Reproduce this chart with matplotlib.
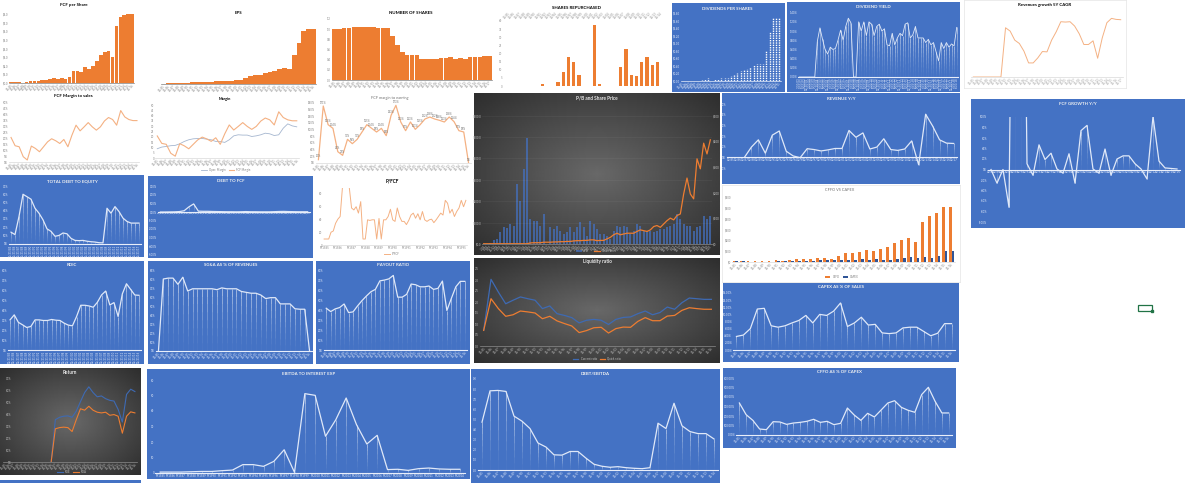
import numpy as np
import matplotlib
matplotlib.use("Agg")
import matplotlib.pyplot as plt
from matplotlib.collections import LineCollection
from matplotlib.patches import Rectangle

# values, one list per chart
fcf_per_share = [0.15, 0.1, 0.08, 0.05, 0.08, 0.2, 0.25, 0.18, 0.3, 0.4, 0.5, 0.55, 0.5, 0.6, 0.45, 0.7, 1.4, 1.4, 1.3,
                 1.9, 1.6, 2.0, 2.6, 3.2, 3.6, 3.7, 3.0, 6.6, 7.6, 7.9, 8.0, 8.0]
eps = [0.02, 0.03, 0.04, 0.05, 0.06, 0.06, 0.08, 0.09, 0.1, 0.1, 0.11, 0.12, 0.13, 0.14, 0.15, 0.16, 0.2, 0.28, 0.36,
       0.4, 0.42, 0.48, 0.52, 0.58, 0.66, 0.72, 0.68, 1.3, 1.85, 2.35, 2.45, 2.45]
num_shares = [1.0, 1.01, 1.02, 1.03, 1.05, 1.05, 1.05, 1.05, 1.05, 1.02, 1.02, 1.02, 0.86, 0.68, 0.56, 0.5, 0.5, 0.5,
              0.41, 0.41, 0.41, 0.41, 0.43, 0.44, 0.45, 0.42, 0.43, 0.42, 0.46, 0.46, 0.45, 0.47, 0.47]
shares_repurchased = [0, 0, 0, 0, 0, 0, 0, 1.5, 0, 0, 2.5, 8.5, 18, 15, 7, 0, 0, 37.5, 1, 0, 0.2, 0.2, 11.5, 22.5, 7,
                      6, 15, 18, 13, 14.5]
dividends = [0, 0.01, 0.01, 0.01, 0.01, 0.01, 0.02, 0.04, 0.07, 0, 0.04, 0.06, 0.07, 0.09, 0.09, 0.12, 0.16, 0.22,
             0.27, 0.29, 0.33, 0.37, 0.42, 0.46, 0.46, 0.46, 0.8, 1.3, 1.66, 1.66, 1.66]
div_yield = [0, 0, 0, 0, 0, 0, 0, 0.78, 1.07, 0.82, 0.6, 0.5, 0.65, 0.6, 0.62, 0.8, 1.02, 0.8, 1.1, 1.28, 1.18, 0, 0,
             1.2, 1.0, 1.2, 0.9, 1.2, 1.15, 0.9, 1.1, 1.15, 1.0, 1.05, 0.7, 0.68, 0.95, 0.7, 0.85, 0.95, 0.9, 1.15,
             1.18, 0.85, 0.92, 1.1, 0.85, 0.85, 0.85, 0.75, 0.82, 0.7, 0.75, 0.55, 0.35, 0.75, 0.62, 0.75, 0.65, 0.72,
             0.68, 1.08]
rev_cagr = [0, 0, 0, 0, 0, 0, 0, 14.7, 13.7, 11, 10, 7.7, 4.2, 4.2, 5.7, 7.6, 7.5, 11, 13.5, 16.5, 16.4, 16.5, 15.2,
            12.9, 9.7, 9.7, 10.8, 5.6, 11.7, 16.2, 17.5, 17.2, 17.1]
fcf_margin = [20.8, 13.8, 12.9, 4.5, 1.7, 13.5, 11.5, 8.7, 12.9, 17.1, 19.7, 18, 15.7, 19.1, 12.9, 22.8, 31.2, 26.4,
              29.8, 33.4, 29.8, 27, 29.8, 34.8, 37.7, 36, 31.2, 43.6, 38.2, 36, 35.1, 35.1]
oper_margin = [8.75, 10.3, 10.9, 11.6, 11.9, 13.4, 15.6, 17.2, 18.1, 18.4, 18.4, 17.8, 17.2, 15.6, 15.6, 14.7, 17.2,
               20.9, 21.9, 21.6, 21.6, 20.3, 20.9, 21.9, 23.4, 22.8, 21.2, 21.9, 28.1, 32.2, 30.3, 29.4]
fcf_to_earning = [10, 171, 115, 104, 34, 23, 71, 58, 71, 93, 115, 104, 93, 104, 82, 143, 173, 123, 97, 123, 101, 115,
                  132, 138, 132, 128, 123, 138, 124, 97, 93, 0]
p_fcf = [9.4, 9.4, 9.4, 20, 22, 34, 40.5, 44.7, 90, np.nan, np.nan, 90, 58, 55, 60, 50, 68, 9.4, 9.4, 39.5, 38.5, 39.5,
         39.5, 9.4, 41.6, 9.4, 39.5, 39.5, 44.7, 56, 39.5, 37, 58, 44.7, 37, 37, 32, 38.5, 47, 50, 42, 49, 39.5, 52.5,
         39.5, 37, 39.5, 40.5, 35, 39.5, 44.7, 50, 47, 70, 65.5, 50, 56, 44.7, 52.5, 58, 70, 60, 70]
debt_equity = [14, 11, 33, 60, 57, 54, 43, 37, 29, 18, 15, 9, 10, 13, 12, 6.5, 4, 3.7, 4, 3, 2.4, 2, 1.2, 1, 43, 37,
               45, 39, 31, 27, 25, 25, 25]
debt_fcf = [0, 0, 0.01, 0.02, 0.05, 0.15, 0.6, 0.95, 0.1, 0.08, 0.08, 0.06, 0.05, 0.04, 0.03, 0.03, 0.02, 0.03, 0.05,
            0.03, 0.03, 0.02, 0.02, 0.02, 0.04, 0.06, 0.07, 0.05, 0.04, 0.03, 0.03, 0.03]
roic = [30.5, 35.6, 28, 25.5, 22.8, 23.8, 30.5, 30.5, 29.9, 29.9, 30.9, 30.2, 29.9, 27.2, 25.2, 24.5, 33.9, 45.3, 45.3,
        44.6, 43.3, 48.3, 55.7, 59.7, 45.6, 48, 33.9, 56.7, 67.1, 61.4, 55.7, 55.4]
sga_pct = [0, 81, 82, 82, 75, 83, 67.5, 70, 70, 70, 70, 70, 69, 71, 70, 70, 70, 67, 66, 65, 65, 63, 59, 60, 60, 53, 53,
           53, 47.5, 47, 47, 0]
payout = [42.3, 38.9, 41.6, 43, 46.6, 37.9, 38.6, 44.6, 50, 54.7, 59, 61.4, 70, 70.8, 72, 75.5, 53.5, 53.5, 56.4, 66.8,
          66.1, 64, 64, 64.8, 61.4, 62.4, 69.8, 40, 52.3, 64, 69.5, 69.5]
pb_ratio = [0, 0, 3, 19, 23, 55, 78, 73, 93, 86, 280, 203, 350, 498, 117, 109, 109, 86, 140, 0, 78, 70, 86, 62, 47, 55,
            78, 55, 78, 101, 78, 39, 109, 93, 70, 47, 47, 39, 23, 62, 86, 78, 86, 78, 47, 62, 93, 86, 62, 62, 62, 55,
            62, 70, 70, 78, 86, 93, 140, 117, 93, 86, 86, 62, 78, 86, 132, 117, 132]
share_price = [1, 1, 1, 1, 1, 1, 1, 1, 1, 1, 1, 1, 1, 1, 4, 5, 5, 5, 7, 7, 7, 8, 8, 9, 9, 10, 10, 12, 13, 13, 14, 14,
               16, 16, 13, 14, 14, 20, 26, 36, 42, 36, 39, 42, 42, 42, 49, 55, 52, 49, 55, 68, 72, 65, 78, 91, 101, 94,
               111, 117, 195, 257, 195, 176, 332, 293, 393, 351, 406]
current_ratio = [0.71, 3.03, 2.45, 1.92, 2.08, 2.23, 2.15, 2.08, 1.7, 1.82, 1.47, 1.39, 1.29, 1.05, 1.17, 1.21, 1.17,
                 0.98, 1.21, 1.3, 1.32, 1.47, 1.59, 1.42, 1.52, 1.77, 1.67, 1.97, 2.18, 2.15, 2.12, 2.12]
quick_ratio = [0.71, 2.15, 1.7, 1.35, 1.42, 1.59, 1.55, 1.5, 1.24, 1.35, 1.14, 1.02, 0.91, 0.61, 0.7, 0.83, 0.85, 0.59,
               0.79, 0.86, 0.85, 1.12, 1.29, 1.15, 1.15, 1.36, 1.39, 1.62, 1.74, 1.7, 1.67, 1.67]
roe = [np.nan] * 11 + [0, 35.7, 37.7, 38.6, 38.9, 37.7, 42.9, 50.9, 58.6, 63.4, 58.6, 55, 55.7, 53.4, 52, 51.4, 44.3,
                       33.7, 57, 61.4, 59.4]
roa = [np.nan] * 11 + [0, 28, 29, 29.4, 29, 25.7, 35.7, 44.9, 43.7, 47, 43.7, 42, 41.4, 42, 39.4, 40, 38.6, 24.3, 38.6,
                       42.3, 41.4]
ebitda_interest = [0.6, 0.6, 0.6, 0.8, 1, 1, 1.5, 1.9, 5.4, 5.4, 4.3, 7.5, 15, 0.4, 51.2, 50.1, 23.7, 34.4, 48.4, 31.2,
                   18.7, 24.3, 2.2, 2.4, 1.7, 2.8, 3.2, 2.6, 2.4, 2.4]
debt_ebitda = [4.73, 7.83, 7.87, 7.77, 5.33, 4.83, 4.1, 2.67, 2.27, 1.5, 1.47, 1.83, 1.83, 1.17, 0.57, 0.37, 0.27, 0.33,
               0.23, 0.17, 0.13, 0.23, 4.63, 4.1, 6.6, 4.37, 3.8, 3.6, 3.6, 3.07]
revenue_yy = [np.nan, np.nan, 0, 9.6, 16.4, 3.9, 20.8, 24.7, 5.7, 1.3, -0.3, 8.1, 7.3, 6, 7, 8.3, 8.3, 25.2, 18.8, 22.9,
              7.8, 9.6, 17.4, 7.3, 6.5, 7.8, 15.4, -7, 40.4, 29.4, 16.4, 13.3, 13]
cffo = [6, 9, 9, 9, 9, 12, 15, 12, 18, 24, 30, 27, 33, 36, 30, 57, 81, 87, 90, 108, 102, 117, 138, 180, 207, 219, 183,
        372, 426, 456, 510, 510]
capex = [9, 6, 3, 3, 3, 3, 6, 6, 9, 9, 12, 12, 15, 15, 18, 21, 15, 18, 27, 21, 27, 21, 21, 27, 36, 45, 39, 42, 39, 57,
         105, 105]
capex_sales = [3.8, 4.2, 6, 11.5, 11.7, 6.8, 6.4, 6.8, 7.6, 8.3, 9.7, 7.6, 10, 9.7, 10.9, 13.2, 6.6, 7.6, 9.2, 7, 7.2,
               4.8, 4.6, 4.8, 6.2, 6.4, 6.4, 5.2, 4, 4.7, 7.4, 7.4]
cffo_capex = [337, 214, 154, 63, 56, 140, 137, 112, 126, 133, 144, 165, 133, 144, 109, 123, 284, 211, 154, 228, 190,
              263, 337, 361, 291, 260, 239, 425, 502, 354, 232, 232]
fcf_growth = [0, -26, 0, -72, 1000, 1000, 11, -11, 47, 19, 31, 1, -7, 30, -26, 74, 84, 1, -7, 39, -11, 20, 26, 26, 11,
              1, -18, 101, 16, 3, 2, 1]

fy_short = [f"12/{y % 100:02d}" for y in range(1985, 2020)]
fy_dates = [f"12/31/{y % 100:02d}" for y in range(1985, 2020)]
qtr_short = [f"{m}/{y % 100:02d}" for y in range(2003, 2021) for m in (3, 6, 9, 12)]
qtr_dates = [f"{m}/30/{y % 100:02d}" for y in range(2003, 2021) for m in (3, 6, 9, 12)]
fy_names = [f"FY{y}" for y in range(1985, 2020)]

BLUE = "#4472C4"
DARK_LINE = "#3E6AB3"
ORANGE = "#ED7D31"
W, H = 1200, 483
FONT = "Lato"

fig = plt.figure(figsize=(W / 100, H / 100), dpi=100, facecolor="white")


def px_axes(x0, y0, x1, y1):
    ax = fig.add_axes([x0 / W, 1 - y1 / H, (x1 - x0) / W, (y1 - y0) / H])
    ax.set_facecolor("none")
    return ax


def panel(x0, y0, x1, y1, kind):
    ax = px_axes(x0, y0, x1, y1)
    ax.set_xticks([])
    ax.set_yticks([])
    for s in ax.spines.values():
        s.set_visible(False)
    if kind == "blue":
        ax.set_facecolor(BLUE)
    elif kind == "dark":
        # radial grey fill like the excel dark chart style
        yy, xx = np.mgrid[-1:1:80j, -1:1:160j]
        shade = np.clip(1 - np.hypot(xx, yy) / 1.4, 0, 1)
        ax.imshow(shade, cmap="gray", vmin=-0.8, vmax=3.6, aspect="auto")
    elif kind == "white":
        for s in ax.spines.values():
            s.set_visible(True)
            s.set_color("#e4e4e4")
            s.set_linewidth(0.5)


def title(x, y, text, color="black", size=3.2, bold=True):
    fig.text(x / W, 1 - y / H, text, ha="center", va="center", fontsize=size, color=color,
             fontweight="bold" if bold else "normal", family=FONT)


def setup(ax, ymin, ymax, step, fmt, labels, color="#7f7f7f", rot=45, axis_color=None):
    for name in ("top", "right", "left"):
        ax.spines[name].set_visible(False)
    ax.spines["bottom"].set_color(axis_color or color)
    ax.spines["bottom"].set_linewidth(0.5)
    ax.set_ylim(ymin, ymax)
    ticks = np.arange(ymin, ymax + step / 2, step)
    ax.set_yticks(ticks)
    ax.set_yticklabels([fmt.format(t) for t in ticks])
    ax.set_xlim(-0.5, len(labels) - 0.5)
    ax.set_xticks(range(len(labels)))
    ax.set_xticklabels(labels, rotation=rot, ha="right" if rot == 45 else "center", rotation_mode="anchor" if rot == 45 else "default")
    ax.tick_params(length=0, labelsize=2.0, pad=0.6, colors=color)
    for t in ax.get_xticklabels() + ax.get_yticklabels():
        t.set_family(FONT)
    if ymin < 0:
        ax.spines["bottom"].set_position(("data", 0))


def white_line(ax, vals, fades=8):
    # white line plus the fading drop lines excel draws down to the axis
    vals = np.array(vals, dtype=float)
    x = np.arange(len(vals))
    segs = []
    cols = []
    for xi, v in zip(x, vals):
        if np.isnan(v):
            continue
        edges = np.linspace(0, v, fades + 1)
        for k in range(fades):
            segs.append([(xi, edges[k]), (xi, edges[k + 1])])
            cols.append((1, 1, 1, 0.04 + 0.75 * (k / fades) ** 1.3))
    ax.add_collection(LineCollection(segs, colors=cols, linewidths=0.5))
    ax.plot(x, vals, color="#dfe8f8", lw=0.9)
    ax.spines["bottom"].set_linewidth(0.8)


def legend(x, y, ax, color):
    handles, names = ax.get_legend_handles_labels()
    fig.legend(handles, names, loc="center", bbox_to_anchor=(x / W, 1 - y / H), ncol=2, frameon=False,
               prop={"size": 2.0, "family": FONT}, labelcolor=color, handlelength=2, columnspacing=1, borderpad=0)


def blue_chart(box, axes_box, name, title_y, vals, ymin, ymax, step, fmt, labels, rot=45):
    panel(*box, "blue")
    title((box[0] + box[2]) / 2, title_y, name, "#f2f2f2")
    ax = px_axes(*axes_box)
    setup(ax, ymin, ymax, step, fmt, labels, color="#e8eefa", rot=rot)
    white_line(ax, vals)
    return ax


# ---- top row, white background ----
title(74, 5, "FCF per Share")
ax = px_axes(9, 14, 134, 83)
setup(ax, 0, 8, 1, "${:.1f}", fy_short[:len(fcf_per_share)])
ax.bar(range(len(fcf_per_share)), fcf_per_share, width=0.92, color=ORANGE)

title(238, 13, "EPS")
ax = px_axes(161, 28, 316, 84)
setup(ax, 0, 2.5, 2.5, "", fy_short[:len(eps)])
ax.tick_params(axis="y", labelleft=False)
ax.bar(range(len(eps)), eps, width=1.0, color=ORANGE)

title(411, 13, "NUMBER OF SHARES")
ax = px_axes(332, 19, 492, 80)
setup(ax, 0, 1.2, 0.2, "{:.1f}", fy_short[:len(num_shares)])
ax.bar(range(len(num_shares)), num_shares, width=0.95, color=ORANGE)

title(577, 8, "SHARES REPURCHASED")
ax = px_axes(503, 21, 660, 86)
setup(ax, 0, 40, 5, "{:.0f}", fy_short[:len(shares_repurchased)], color="#8c8c8c")
ax.spines["bottom"].set_visible(False)
ax.xaxis.tick_top()
plt.setp(ax.get_xticklabels(), ha="left")
ax.bar(range(len(shares_repurchased)), shares_repurchased, width=0.62, color=ORANGE)

panel(672, 3, 785, 92, "blue")
title(727, 9, "DIVIDENDS PER SHARES", "#f2f2f2")
ax = px_axes(681, 13, 781, 81)
setup(ax, 0, 1.8, 0.2, "${:.2f}", fy_short[:len(dividends)], color="#e8eefa")
ax.vlines(range(len(dividends)), 0, dividends, colors="white", linestyles=(0, (1, 0.7)), lw=1.0)

panel(787, 2, 960, 92, "blue")
title(873, 7, "DIVIDEND YIELD", "#f2f2f2")
ax = px_axes(798, 12.7, 958, 77)
setup(ax, 0, 1.4, 0.2, "{:.2f}%", qtr_dates[:len(div_yield)], color="#e8eefa", rot=90)
white_line(ax, div_yield)
ax.lines[0].set_linewidth(0.6)

panel(964, 0, 1126, 88, "white")
title(1045, 5, "Revenues growth 5Y CAGR")
ax = px_axes(971, 10, 1123, 77)
setup(ax, 0, 20, 20, "", fy_short[:len(rev_cagr)], color="#9a9a9a", axis_color="#d9d9d9")
ax.tick_params(axis="y", labelleft=False)
ax.plot(rev_cagr, color="#F4B183", lw=0.7)

# ---- second row, white background ----
title(73, 96, "FCF Margin to sales")
ax = px_axes(9, 103, 139, 162)
setup(ax, 0, 50, 5, "{:.0f}%", fy_short[:len(fcf_margin)], axis_color="#d9d9d9")
ax.plot(fcf_margin, color="#F4B183", lw=0.8)

title(225, 99, "Margin", size=2.8)
ax = px_axes(155, 105, 299, 158)
setup(ax, 0, 50, 5, "{:.0f}", fy_short[:len(fcf_margin)], axis_color="#d9d9d9")
ax.plot(oper_margin, color="#A5B6CF", lw=0.6, label="Oper. Margin")
ax.plot(fcf_margin, color="#F4B183", lw=0.8, label="FCF Margin")
legend(226, 170, ax, "#7f7f7f")

title(390, 98, "FCF margin to earning", "#6f6f6f", size=2.8, bold=False)
ax = px_axes(316, 103, 471, 163)
setup(ax, 0, 180, 20, "{:.0f}%", fy_short[:len(fcf_to_earning)], axis_color="#d9d9d9")
ax.plot(fcf_to_earning, color="#F4B183", lw=0.9)
for i, v in enumerate(fcf_to_earning):
    ax.text(i, v + 4, f"{v}%", fontsize=1.9, ha="center", va="bottom", color="#6f6f6f", family=FONT, clip_on=False)

# ---- left block of blue charts ----
blue_chart((0, 175, 144, 257), (9, 186, 141, 243.7), "TOTAL DEBT TO EQUITY", 181, debt_equity, 0, 70, 10, "{:.0f}%",
           fy_dates[:len(debt_equity)], rot=90)
ax = blue_chart((148, 176, 313, 258), (158, 186.5, 310, 254.5), "DEBT TO FCF", 181, debt_fcf, -5, 3, 1, "{:.0f}00%",
                fy_short[:len(debt_fcf)])
ax.tick_params(axis="x", labelsize=1.7)

title(392, 181, "P/FCF", size=3.4)
ax = px_axes(323, 187.6, 467, 245)
setup(ax, 0, 90, 20, "{:.0f}", qtr_short[:len(p_fcf)], color="#7f7f7f", axis_color="#d9d9d9", rot=0)
ax.set_xticks(range(0, len(p_fcf), 6))
ax.set_xticklabels(fy_names[:len(range(0, len(p_fcf), 6))])
ax.plot(p_fcf, color="#F4B183", lw=0.7, label="P/FCF")
legend(392, 254, ax, "#7f7f7f")

blue_chart((0, 261, 144, 364), (8, 271, 141, 350), "ROIC", 265, roic, 0, 80, 10, "{:.0f}%",
           fy_dates[:len(roic)], rot=90)
blue_chart((148, 261, 313, 364), (156, 271, 312, 351), "SG&A AS % OF REVENUES", 265, sga_pct, 0, 90, 10, "{:.0f}%",
           fy_short[:len(sga_pct)])
blue_chart((316, 261, 470, 364), (324, 271, 467, 350), "PAYOUT RATIO", 265, payout, 0, 80, 10, "{:.0f}%",
           fy_short[:len(payout)])

# ---- dark charts ----
panel(474, 93, 720, 255, "dark")
title(597, 98, "P/B and Share Price", "#e6e6e6", size=3.4)
ax = px_axes(482, 115.7, 712, 244)
setup(ax, 0, 600, 100, "${:.1f}", qtr_short[:len(pb_ratio)], color="#c4c4c4", axis_color="#8c8c8c")
ax.grid(axis="y", color="white", alpha=0.07, lw=0.4)
ax.bar(range(len(pb_ratio)), pb_ratio, width=0.55, color="#4472C4", alpha=0.7, label="P/B")
ax2 = ax.twinx()
ax2.set_facecolor("none")
for s in ax2.spines.values():
    s.set_visible(False)
ax2.set_ylim(0, 500)
ax2.set_yticks(np.arange(0, 501, 100))
ax2.set_yticklabels([f"${t}" for t in range(0, 501, 100)])
ax2.tick_params(length=0, labelsize=2.0, pad=0.6, colors="#c4c4c4")
line, = ax2.plot(share_price, color=ORANGE, lw=0.9, label="Share Price")
fig.legend([ax.containers[0], line], ["P/B", "Share Price"], loc="center", bbox_to_anchor=(596 / W, 1 - 251 / H),
           ncol=2, frameon=False, prop={"size": 2.0, "family": FONT}, labelcolor="#c4c4c4", handlelength=2)

panel(474, 258, 720, 363, "dark")
title(597, 262, "Liquidity ratio", "#e6e6e6", size=3.4)
ax = px_axes(480, 269, 715, 346)
setup(ax, 0, 3.5, 0.5, "{:.1f}", fy_short[:len(current_ratio)], color="#c4c4c4", axis_color="#8c8c8c")
ax.plot(current_ratio, color=DARK_LINE, lw=0.9, label="Current ratio")
ax.plot(quick_ratio, color=ORANGE, lw=0.9, label="Quick ratio")
legend(597, 359, ax, "#c4c4c4")

panel(0, 368, 141, 475, "dark")
title(70, 372, "Return", "#e6e6e6", size=3.4)
ax = px_axes(3, 379, 137, 462)
setup(ax, 0, 70, 10, "{:.0f}%", fy_short[:len(roe)], color="#c4c4c4", axis_color="#8c8c8c")
ax.tick_params(axis="y", pad=-6)
ax.plot(roe, color=DARK_LINE, lw=0.8, label="ROE")
ax.plot(roa, color=ORANGE, lw=0.8, label="ROA")
legend(72, 472, ax, "#c4c4c4")

# ---- bottom row ----
panel(0, 480, 141, 483, "blue")
blue_chart((147, 369, 470, 479), (155, 380, 465, 473), "EBITDA TO INTEREST EXP", 374, ebitda_interest, 0, 60, 10,
           "{:.0f}", fy_names[:len(ebitda_interest)], rot=0)
blue_chart((471, 369, 720, 483), (478, 379, 718, 470), "DEBT/EBITDA", 374, debt_ebitda, 0, 9, 1, "{:.1f}",
           fy_short[:len(debt_ebitda)])

# ---- right column ----
blue_chart((722, 93, 960, 184), (727, 104, 957, 168), "REVENUE Y/Y", 99, revenue_yy, -10, 50, 10, "{:.0f}%",
           fy_short[:len(revenue_yy)])

panel(722, 185, 960, 282, "white")
title(840, 190, "CFFO VS CAPEX", "#6f6f6f", size=2.8, bold=False)
ax = px_axes(732, 197, 955, 262)
setup(ax, 0, 600, 100, "${:.0f}", fy_short[:len(cffo)], axis_color="#d9d9d9")
x = np.arange(len(cffo))
ax.bar(x - 0.2, cffo, width=0.4, color=ORANGE, label="CFFO")
ax.bar(x + 0.2, capex, width=0.4, color="#2F5597", label="CAPEX")
legend(842, 277, ax, "#7f7f7f")

blue_chart((723, 283, 959, 362), (733, 293, 955, 350), "CAPEX AS % OF SALES", 287, capex_sales, 0, 16, 2, "{:.2f}%",
           fy_short[:len(capex_sales)])
blue_chart((723, 368, 956, 448), (736, 378, 952, 435), "CFFO AS % OF CAPEX", 372, cffo_capex, 0, 600, 100, "{:.2f}%",
           fy_short[:len(cffo_capex)])

blue_chart((971, 99, 1185, 228), (988, 117, 1180, 222), "FCF GROWTH Y/Y", 104, fcf_growth, -100, 100, 20, "{:.0f}%",
           fy_short[:len(fcf_growth)])

# selected excel cell handle floating in the sheet
sheet = px_axes(0, 0, W, H)
sheet.set_xlim(0, W)
sheet.set_ylim(H, 0)
sheet.axis("off")
sheet.add_patch(Rectangle((1138, 305), 14, 6, fill=False, edgecolor="#217346", lw=0.9))
sheet.add_patch(Rectangle((1150.5, 309.5), 2.5, 2.5, color="#217346"))

fig.savefig("out.png", dpi=100)
